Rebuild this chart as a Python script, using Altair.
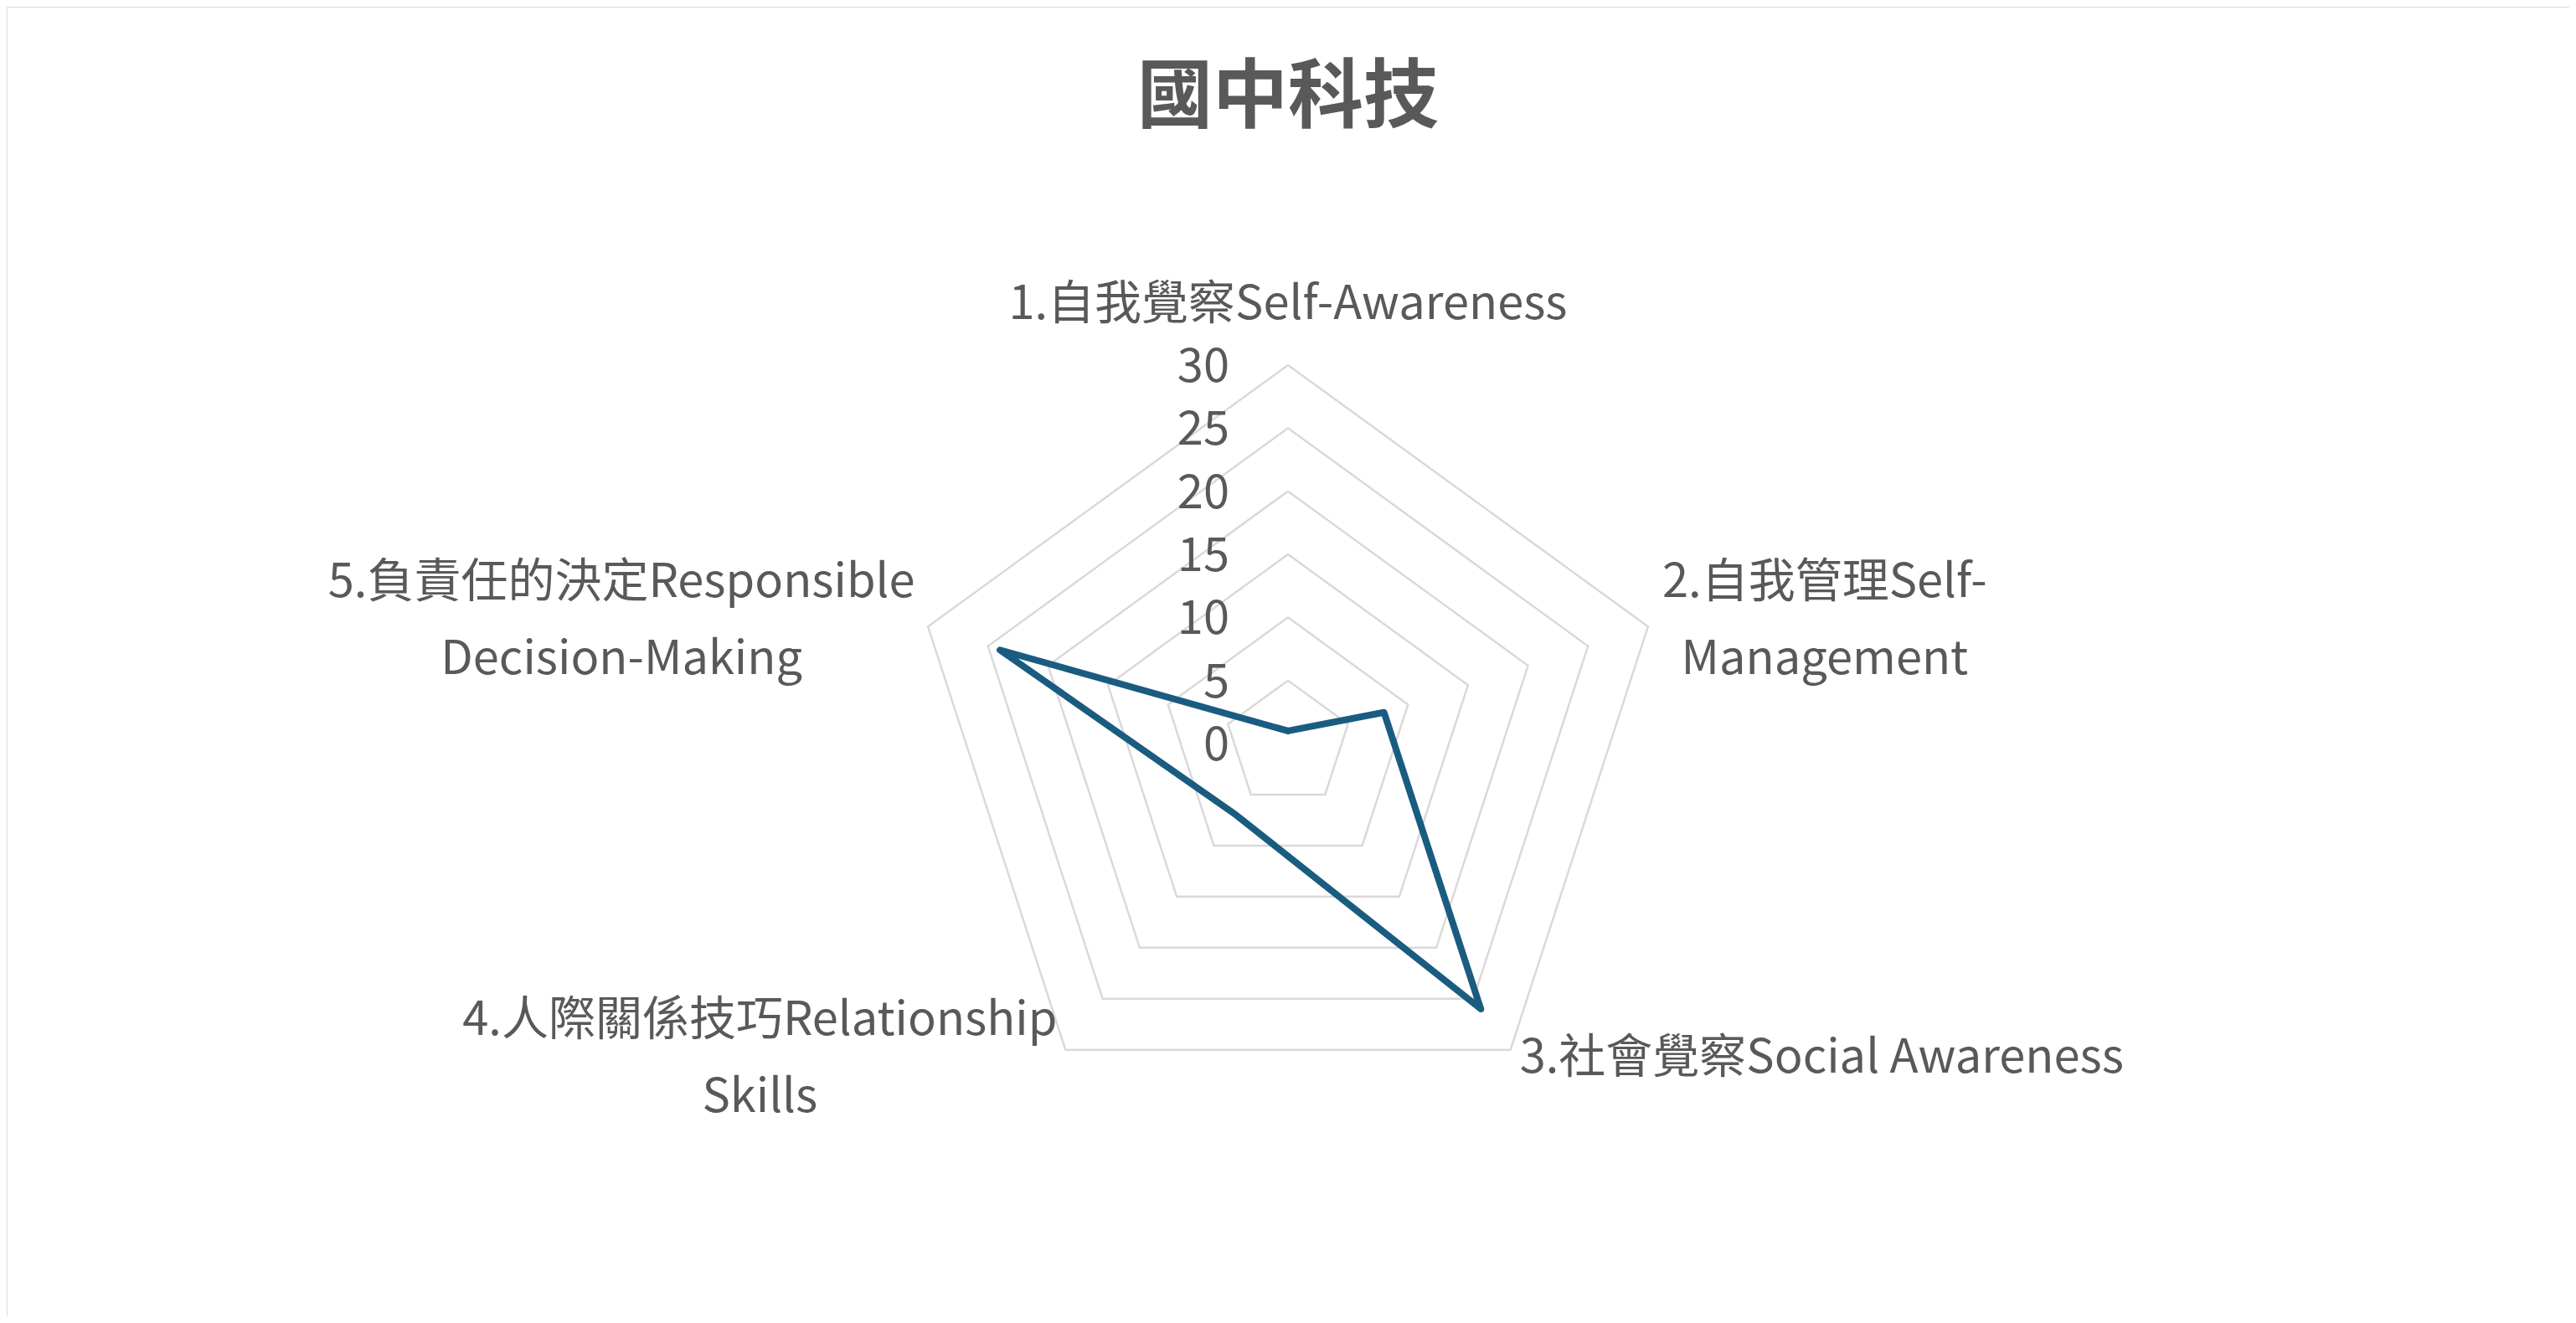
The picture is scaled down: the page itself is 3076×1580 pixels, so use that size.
import math
import altair as alt
import pandas as pd

# ---- data ----
title_text = "國中科技"
categories = [
    "1.自我覺察Self-Awareness",
    "2.自我管理Self-\nManagement",
    "3.社會覺察Social Awareness",
    "4.人際關係技巧Relationship\nSkills",
    "5.負責任的決定Responsible\nDecision-Making",
]
values = [1, 8, 26, 7, 24]
ticks = [0, 5, 10, 15, 20, 25, 30]

# ---- layout ----
W, H = 3060, 1564
CX, CY = 1530, 880          # centre of the radar in view pixels
R_PX = 452                  # pixel radius of the outer ring
RMAX = max(ticks)
PPU = R_PX / RMAX
XDOM = [-CX / PPU, (W - CX) / PPU]
YDOM = [-(H - CY) / PPU, CY / PPU]
N = len(categories)
FONT = "Noto Sans CJK TC"
GREY = "#595959"

xs = alt.X("px:Q", scale=alt.Scale(domain=XDOM, nice=False, zero=False), axis=None)
ys = alt.Y("py:Q", scale=alt.Scale(domain=YDOM, nice=False, zero=False), axis=None)

def polar(ch):
    return ch.transform_calculate(
        ang=f"2*PI*datum.idx/{N}"
    ).transform_calculate(
        px="datum.r*sin(datum.ang)", py="datum.r*cos(datum.ang)"
    )

# grid rings
grid_rows = []
for lvl in ticks[1:]:
    for k in range(N + 1):
        grid_rows.append({"level": lvl, "k": k, "idx": k % N, "r": lvl})
grid_df = pd.DataFrame(grid_rows)

grid = polar(alt.Chart(grid_df)).mark_line(
    color="#D9D9D9", strokeWidth=2.5
).encode(x=xs, y=ys, detail="level:N", order="k:Q")

# series
ser_rows = [{"k": k, "idx": k % N, "r": values[k % N]} for k in range(N + 1)]
ser_df = pd.DataFrame(ser_rows)
series = polar(alt.Chart(ser_df)).mark_line(
    color="#1A5C80", strokeWidth=8, strokeJoin="round", strokeCap="round"
).encode(x=xs, y=ys, order="k:Q")

# tick labels along the first axis
tick_df = pd.DataFrame({"r": ticks, "idx": [0] * len(ticks), "lab": [str(t) for t in ticks]})
tick_labels = polar(alt.Chart(tick_df)).mark_text(
    align="right", baseline="middle", dx=-70, dy=3, fontSize=56, font=FONT, color=GREY
).encode(x=xs, y=ys, text="lab:N")

# category labels
lab_df = pd.DataFrame({"idx": list(range(N)), "r": [RMAX] * N, "lab": categories})
label_styles = [
    dict(align="center", dx=0, dy=-72),
    dict(align="center", dx=211, dy=-52),
    dict(align="left", dx=11, dy=10),
    dict(align="center", dx=-365, dy=-35),
    dict(align="center", dx=-366, dy=-52),
]
label_layers = []
for i, st in enumerate(label_styles):
    label_layers.append(
        polar(alt.Chart(lab_df)).transform_filter(f"datum.idx == {i}").mark_text(
            baseline="middle", fontSize=56, font=FONT, color=GREY,
            lineBreak="\n", lineHeight=92, **st
        ).encode(x=xs, y=ys, text="lab:N")
    )

# chart title
title_df = pd.DataFrame({"t": [title_text]})
title = alt.Chart(title_df).mark_text(
    align="center", baseline="middle", fontSize=90, font=FONT,
    fontWeight="bold", color=GREY
).encode(x=alt.value(CX), y=alt.value(110), text="t:N")

chart = alt.layer(grid, series, tick_labels, *label_layers, title).properties(
    width=W, height=H,
    padding=0,
    autosize=alt.AutoSizeParams(type="none"),
).configure_view(stroke="#D9D9D9", strokeWidth=5).configure(background="white")

chart.save("out.html", embed_options={"renderer": "svg", "actions": False})
